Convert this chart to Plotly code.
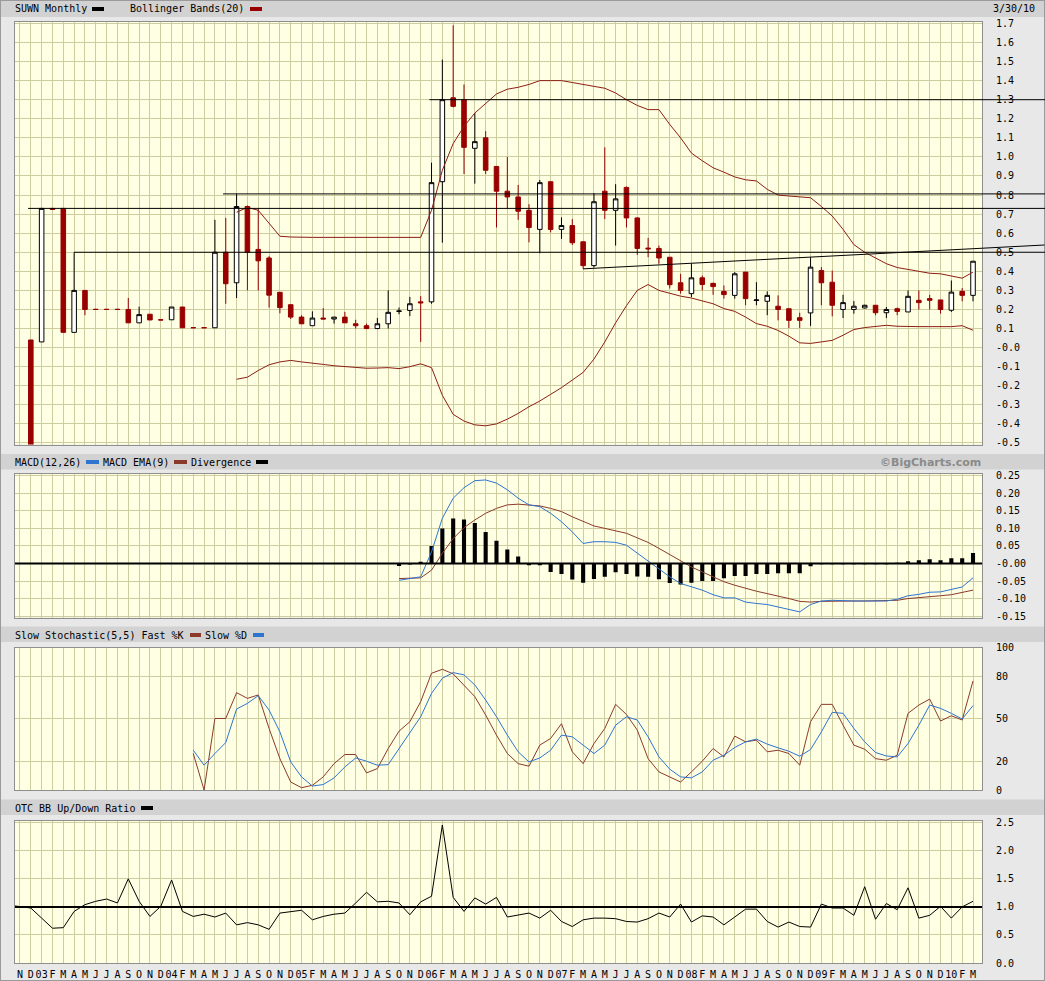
import plotly.graph_objects as go

# ---------------- data ----------------
month_labels = ["N", "D",
    "03", "F", "M", "A", "M", "J", "J", "A", "S", "O", "N", "D",
    "04", "F", "M", "A", "M", "J", "J", "A", "S", "O", "N", "D",
    "05", "F", "M", "A", "M", "J", "J", "A", "S", "O", "N", "D",
    "06", "F", "M", "A", "M", "J", "J", "A", "S", "O", "N", "D",
    "07", "F", "M", "A", "M", "J", "J", "A", "S", "O", "N", "D",
    "08", "F", "M", "A", "M", "J", "J", "A", "S", "O", "N", "D",
    "09", "F", "M", "A", "M", "J", "J", "A", "S", "O", "N", "D",
    "10", "F", "M"]

candle_start = 1
candle_open = [0.04, 0.03, 0.73, 0.73, 0.08, 0.30, 0.201, 0.201, 0.201, 0.20,
    0.13, 0.175, 0.146, 0.146, 0.213, 0.105, 0.105, 0.104, 0.50, 0.34,
    0.74, 0.515, 0.47, 0.29, 0.225, 0.16, 0.115, 0.155, 0.15, 0.16,
    0.125, 0.115, 0.10, 0.125, 0.19, 0.195, 0.24, 0.24, 0.87, 1.31,
    1.30, 1.045, 1.10, 0.95, 0.82, 0.79, 0.72, 0.62, 0.87, 0.62,
    0.64, 0.555, 0.43, 0.82, 0.72, 0.84, 0.68, 0.522, 0.52, 0.474,
    0.34, 0.283, 0.366, 0.337, 0.295, 0.274, 0.396, 0.247, 0.243, 0.217,
    0.204, 0.157, 0.182, 0.404, 0.343, 0.20, 0.20, 0.208, 0.222, 0.183,
    0.204, 0.187, 0.248, 0.257, 0.25, 0.196, 0.295, 0.274]
candle_high = [0.04, 0.73, 0.73, 0.73, 0.50, 0.30, 0.201, 0.201, 0.201, 0.26,
    0.215, 0.175, 0.146, 0.213, 0.213, 0.105, 0.105, 0.67, 0.68, 0.806,
    0.745, 0.73, 0.48, 0.29, 0.225, 0.17, 0.19, 0.207, 0.16, 0.187,
    0.146, 0.126, 0.156, 0.30, 0.21, 0.266, 0.27, 0.97, 1.51, 1.69,
    1.38, 1.23, 1.135, 0.95, 1.00, 0.853, 0.752, 0.879, 0.87, 0.683,
    0.674, 0.555, 0.81, 1.05, 0.857, 0.845, 0.683, 0.575, 0.535, 0.474,
    0.387, 0.44, 0.378, 0.34, 0.326, 0.396, 0.396, 0.343, 0.295, 0.274,
    0.204, 0.183, 0.474, 0.422, 0.404, 0.277, 0.244, 0.225, 0.222, 0.213,
    0.21, 0.30, 0.30, 0.277, 0.25, 0.352, 0.312, 0.453]
candle_low = [-0.55, 0.03, 0.725, 0.08, 0.08, 0.17, 0.20, 0.20, 0.20, 0.13,
    0.13, 0.145, 0.145, 0.146, 0.104, 0.104, 0.104, 0.104, 0.23, 0.26,
    0.30, 0.30, 0.21, 0.18, 0.15, 0.123, 0.115, 0.15, 0.126, 0.13,
    0.10, 0.097, 0.097, 0.10, 0.175, 0.165, 0.03, 0.23, 0.55, 1.26,
    0.91, 0.86, 0.91, 0.63, 0.73, 0.67, 0.552, 0.495, 0.604, 0.57,
    0.538, 0.413, 0.42, 0.674, 0.535, 0.63, 0.486, 0.474, 0.44, 0.31,
    0.283, 0.265, 0.30, 0.277, 0.257, 0.257, 0.222, 0.222, 0.17, 0.143,
    0.103, 0.103, 0.114, 0.222, 0.164, 0.155, 0.178, 0.205, 0.17, 0.155,
    0.17, 0.187, 0.20, 0.20, 0.178, 0.187, 0.243, 0.243]
candle_close = [-0.55, 0.73, 0.725, 0.08, 0.30, 0.20, 0.20, 0.20, 0.20, 0.13,
    0.173, 0.145, 0.145, 0.213, 0.104, 0.104, 0.104, 0.50, 0.335, 0.74,
    0.50, 0.455, 0.275, 0.21, 0.16, 0.125, 0.155, 0.15, 0.16, 0.13,
    0.115, 0.10, 0.125, 0.185, 0.192, 0.23, 0.235, 0.865, 1.30, 1.265,
    1.05, 1.08, 0.93, 0.82, 0.79, 0.715, 0.63, 0.865, 0.62, 0.64,
    0.55, 0.43, 0.765, 0.72, 0.78, 0.68, 0.52, 0.518, 0.47, 0.33,
    0.30, 0.366, 0.331, 0.32, 0.278, 0.387, 0.257, 0.25, 0.274, 0.20,
    0.143, 0.143, 0.422, 0.34, 0.222, 0.236, 0.217, 0.222, 0.183, 0.20,
    0.19, 0.269, 0.236, 0.248, 0.20, 0.291, 0.274, 0.453]

boll_start = 20
boll_upper = [0.71, 0.735, 0.72, 0.65, 0.584, 0.58, 0.578, 0.578, 0.578, 0.578,
    0.578, 0.578, 0.578, 0.578, 0.578, 0.578, 0.578, 0.578, 0.72, 0.93,
    1.07, 1.16, 1.23, 1.28, 1.33, 1.355, 1.365, 1.38, 1.40, 1.40,
    1.40, 1.39, 1.38, 1.37, 1.36, 1.335, 1.30, 1.27, 1.248, 1.248,
    1.17, 1.10, 1.02, 0.98, 0.943, 0.92, 0.895, 0.88, 0.874, 0.83,
    0.80, 0.795, 0.79, 0.786, 0.74, 0.69, 0.62, 0.54, 0.50, 0.47,
    0.44, 0.42, 0.41, 0.40, 0.39, 0.387, 0.375, 0.364, 0.396]
boll_lower = [-0.166, -0.155, -0.12, -0.09, -0.075, -0.067, -0.075, -0.083, -0.088, -0.095,
    -0.10, -0.104, -0.108, -0.107, -0.105, -0.11, -0.10, -0.085, -0.105, -0.25,
    -0.35, -0.385, -0.405, -0.41, -0.40, -0.375, -0.345, -0.31, -0.28, -0.245,
    -0.21, -0.17, -0.13, -0.06, 0.03, 0.13, 0.22, 0.30, 0.331, 0.30,
    0.283, 0.27, 0.26, 0.245, 0.23, 0.205, 0.19, 0.16, 0.126, 0.112,
    0.09, 0.06, 0.025, 0.022, 0.03, 0.038, 0.065, 0.095, 0.105, 0.11,
    0.117, 0.112, 0.11, 0.11, 0.11, 0.11, 0.11, 0.115, 0.091]

# user-drawn reference lines on the price panel: (start month index, level)
hline_starts = [0.75, 5, 18.75, 37.8]
hline_levels = [0.73, 0.50, 0.806, 1.30]
trend_start = (52, 0.413)
trend_end = (94.6, 0.538)

macd_start = 35
macd_line = [-0.048, -0.043, -0.038, 0.033, 0.129, 0.186, 0.216, 0.236, 0.238, 0.229,
    0.21, 0.186, 0.167, 0.162, 0.143, 0.119, 0.09, 0.057, 0.062, 0.062,
    0.06, 0.052, 0.029, 0.007, -0.016, -0.038, -0.057, -0.067, -0.076, -0.089,
    -0.098, -0.098, -0.11, -0.114, -0.117, -0.124, -0.13, -0.138, -0.117, -0.107,
    -0.105, -0.107, -0.107, -0.107, -0.107, -0.107, -0.102, -0.092, -0.088, -0.082,
    -0.081, -0.073, -0.067, -0.041]
macd_signal = [-0.043, -0.043, -0.041, -0.019, 0.029, 0.071, 0.102, 0.124, 0.143, 0.157,
    0.167, 0.169, 0.167, 0.164, 0.157, 0.148, 0.133, 0.121, 0.107, 0.10,
    0.092, 0.086, 0.073, 0.06, 0.043, 0.026, 0.007, -0.01, -0.024, -0.038,
    -0.052, -0.062, -0.071, -0.079, -0.086, -0.092, -0.10, -0.108, -0.11, -0.108,
    -0.107, -0.107, -0.107, -0.107, -0.107, -0.107, -0.105, -0.10, -0.098, -0.095,
    -0.092, -0.089, -0.083, -0.076]
macd_div = [-0.007, -0.003, 0.005, 0.05, 0.10, 0.128, 0.125, 0.115, 0.09, 0.065,
    0.04, 0.02, -0.005, -0.005, -0.024, -0.03, -0.046, -0.055, -0.044, -0.038,
    -0.025, -0.03, -0.037, -0.038, -0.045, -0.056, -0.06, -0.055, -0.05, -0.05,
    -0.042, -0.036, -0.036, -0.03, -0.03, -0.028, -0.028, -0.028, -0.008, -0.002,
    -0.002, -0.002, -0.002, -0.002, -0.002, -0.002, 0.002, 0.006, 0.009, 0.012,
    0.009, 0.015, 0.015, 0.03]

stoch_start = 16
stoch_k = [25.6, 0, 50.2, 50.2, 68.3, 64.3, 66.7, 43.2, 22, 5.6,
    1.6, 3.3, 9.2, 18.5, 24.9, 24.9, 12, 15, 29.1, 41.3,
    47.9, 62, 81.9, 84.7, 81.5, 73.7, 65.5, 52.6, 38.5, 25.6,
    18.5, 16.7, 31.5, 36.2, 46.5, 26.8, 18.5, 32.6, 43.2, 60.1,
    53, 42, 22, 12.7, 9.2, 5.6, 12.7, 20.2, 29.1, 23.2,
    37.8, 33.8, 35, 26.8, 27.9, 25.6, 17.4, 47.9, 60.1, 60.1,
    45.5, 31.5, 28.6, 22, 20.9, 24.4, 53.8, 59.6, 63.8, 48.4,
    52.1, 49.1, 76.5]
stoch_d = [27.9, 17.4, 25.6, 33.3, 56.8, 60.8, 66.2, 56.1, 40.8, 19.7,
    9.2, 2.8, 3.8, 8.5, 16.2, 22.5, 20.2, 17.4, 17.8, 29.1,
    39.7, 51.4, 67.8, 78.4, 82.4, 80.8, 73.7, 63.1, 51.4, 38.5,
    26.8, 19.7, 22.5, 27.9, 38.5, 37.3, 31.5, 25.6, 31.5, 45.5,
    51.4, 49.1, 37.3, 23.2, 14.6, 9.2, 8.5, 12.7, 20.9, 24.4,
    29.8, 33.8, 35.7, 32.2, 29.6, 27.2, 23.7, 28.4, 40.8, 54.5,
    53.8, 43.2, 33.8, 26.3, 23.9, 23.2, 32.6, 45.5, 59.6, 57.3,
    53.8, 49.8, 59.2]

otc_start = -1
otc_ratio = [1.03, 1.01, 0.98, 0.80, 0.62, 0.63, 0.92, 1.04, 1.10, 1.14, 1.07,
    1.50, 1.10, 0.83, 1.01, 1.48, 0.92, 0.83, 0.87, 0.82, 0.89,
    0.68, 0.72, 0.68, 0.60, 0.89, 0.92, 0.94, 0.77, 0.83, 0.87,
    0.89, 1.07, 1.26, 1.09, 1.10, 1.07, 0.86, 1.09, 1.19, 2.46,
    1.17, 0.92, 1.16, 1.05, 1.17, 0.82, 0.85, 0.89, 0.80, 0.94,
    0.74, 0.65, 0.77, 0.80, 0.80, 0.79, 0.74, 0.73, 0.79, 0.89,
    0.82, 1.05, 0.73, 0.84, 0.82, 0.68, 0.82, 0.96, 0.96, 0.74,
    0.64, 0.73, 0.65, 0.64, 1.05, 0.98, 0.98, 0.85, 1.36, 0.78,
    1.06, 0.95, 1.34, 0.80, 0.85, 1.01, 0.80, 1.00, 1.10]

price_ticks = [1.7, 1.6, 1.5, 1.4, 1.3, 1.2, 1.1, 1.0, 0.9, 0.8, 0.7, 0.6, 0.5, 0.4, 0.3,
               0.2, 0.1, 0.0, -0.1, -0.2, -0.3, -0.4, -0.5]
price_tick_text = ["1.7", "1.6", "1.5", "1.4", "1.3", "1.2", "1.1", "1.0", "0.9", "0.8", "0.7",
                   "0.6", "0.5", "0.4", "0.3", "0.2", "0.1", "-0.0", "-0.1", "-0.2", "-0.3",
                   "-0.4", "-0.5"]
macd_ticks = [0.25, 0.20, 0.15, 0.10, 0.05, 0.0, -0.05, -0.10, -0.15]
macd_tick_text = ["0.25", "0.20", "0.15", "0.10", "0.05", "-0.00", "-0.05", "-0.10", "-0.15"]
stoch_ticks = [100, 80, 50, 20, 0]
stoch_tick_text = ["100", "80", "50", "20", "0"]
otc_ticks = [2.5, 2.0, 1.5, 1.0, 0.5, 0.0]
otc_tick_text = ["2.5", "2.0", "1.5", "1.0", "0.5", "0.0"]

# ---------------- style ----------------
W, H = 1045, 981
FONT = "DejaVu Sans Mono"
PAGE_BG = "#e8e8e8"
HEAD_BG = "#d2d2d2"
PLOT_BG = "#ffffe3"
GRID = "#cdcd9f"
RED = "#990000"
BAND = "#8b1e14"
BLUE = "#2e74d0"
BROWN = "#8b3a2a"

XR = [-0.46, 88.83]
XD = [15 / W, 982 / W]


def ydom(top_px, bot_px):
    return [1 - bot_px / H, 1 - top_px / H]


def px(x):
    return x / W


def py(y):
    return 1 - y / H


def kx(k):
    return XD[0] + (k - XR[0]) / (XR[1] - XR[0]) * (XD[1] - XD[0])


def rng(start, n):
    return list(range(start, start + n))


fig = go.Figure()

# price panel
fig.add_trace(go.Candlestick(
    x=rng(candle_start, len(candle_open)), open=candle_open, high=candle_high,
    low=candle_low, close=candle_close,
    increasing=dict(line=dict(color="black", width=1), fillcolor="white"),
    decreasing=dict(line=dict(color=RED, width=1), fillcolor=RED),
    whiskerwidth=0, xaxis="x", yaxis="y", showlegend=False, hoverinfo="skip"))
for band in (boll_upper, boll_lower):
    fig.add_trace(go.Scatter(x=rng(boll_start, len(band)), y=band, mode="lines",
                             line=dict(color=BAND, width=1), xaxis="x", yaxis="y",
                             showlegend=False, hoverinfo="skip"))

# MACD panel
fig.add_trace(go.Bar(x=rng(macd_start, len(macd_div)), y=macd_div, width=0.38,
                     marker=dict(color="black", line=dict(width=0)),
                     xaxis="x2", yaxis="y2", showlegend=False, hoverinfo="skip"))
fig.add_trace(go.Scatter(x=rng(macd_start, len(macd_signal)), y=macd_signal, mode="lines",
                         line=dict(color=BROWN, width=1), xaxis="x2", yaxis="y2",
                         showlegend=False, hoverinfo="skip"))
fig.add_trace(go.Scatter(x=rng(macd_start, len(macd_line)), y=macd_line, mode="lines",
                         line=dict(color=BLUE, width=1), xaxis="x2", yaxis="y2",
                         showlegend=False, hoverinfo="skip"))

# Stochastic panel
fig.add_trace(go.Scatter(x=rng(stoch_start, len(stoch_k)), y=stoch_k, mode="lines",
                         line=dict(color=BROWN, width=1), xaxis="x3", yaxis="y3",
                         showlegend=False, hoverinfo="skip"))
fig.add_trace(go.Scatter(x=rng(stoch_start, len(stoch_d)), y=stoch_d, mode="lines",
                         line=dict(color=BLUE, width=1), xaxis="x3", yaxis="y3",
                         showlegend=False, hoverinfo="skip"))

# OTC panel
fig.add_trace(go.Scatter(x=rng(otc_start, len(otc_ratio)), y=otc_ratio, mode="lines",
                         line=dict(color="black", width=1), xaxis="x4", yaxis="y4",
                         showlegend=False, hoverinfo="skip"))

axis_font = dict(family=FONT, size=10, color="black")
xcommon = dict(range=XR, domain=XD, showgrid=True, gridcolor=GRID, gridwidth=1,
               zeroline=False, showline=True, mirror=True, linecolor="#8f8f8f",
               linewidth=1, fixedrange=True, automargin=False)
ycommon = dict(side="right", showgrid=True, gridcolor=GRID, gridwidth=1, zeroline=False,
               showline=True, mirror=True, linecolor="#8f8f8f", linewidth=1,
               ticks="outside", ticklen=11, tickcolor="rgba(0,0,0,0)",
               tickfont=axis_font, tickmode="array", fixedrange=True, automargin=False)

layout = dict(
    width=W, height=H, autosize=False,
    margin=dict(l=0, r=0, t=0, b=0, pad=0, autoexpand=False),
    paper_bgcolor=PAGE_BG, plot_bgcolor=PLOT_BG,
    showlegend=False, hovermode=False, boxgap=0.4,
    xaxis=dict(xcommon, anchor="y", tickmode="linear", tick0=0, dtick=1,
               showticklabels=False, rangeslider=dict(visible=False)),
    xaxis2=dict(xcommon, anchor="y2", tickmode="linear", tick0=0, dtick=1,
                showticklabels=False),
    xaxis3=dict(xcommon, anchor="y3", tickmode="linear", tick0=0, dtick=1,
                showticklabels=False),
    xaxis4=dict(xcommon, anchor="y4", tickmode="array",
                tickvals=list(range(len(month_labels))), ticktext=month_labels,
                tickangle=0, tickfont=axis_font, ticks="outside", ticklen=2,
                tickcolor="rgba(0,0,0,0)"),
    yaxis=dict(ycommon, anchor="x", domain=ydom(21.5, 444.5), range=[-0.508, 1.71],
               tickvals=price_ticks, ticktext=price_tick_text),
    yaxis2=dict(ycommon, anchor="x2", domain=ydom(474, 617.5), range=[-0.154, 0.255],
                tickvals=macd_ticks, ticktext=macd_tick_text),
    yaxis3=dict(ycommon, anchor="x3", domain=ydom(647.5, 790), range=[0, 100],
                tickvals=stoch_ticks, ticktext=stoch_tick_text),
    yaxis4=dict(ycommon, anchor="x4", domain=ydom(820.5, 963), range=[0, 2.54],
                tickvals=otc_ticks, ticktext=otc_tick_text),
)
fig.update_layout(**layout)

shapes = []
# header bars
for top, bot in [(0, 17), (454, 469.5), (626.5, 642), (799.5, 815)]:
    shapes.append(dict(type="rect", xref="paper", yref="paper", x0=0, x1=1,
                       y0=py(bot), y1=py(top), fillcolor=HEAD_BG, line=dict(width=0),
                       layer="below"))
# outer frame
shapes.append(dict(type="rect", xref="paper", yref="paper", x0=0, x1=1, y0=0, y1=1,
                   line=dict(color="#9a9a9a", width=2), fillcolor="rgba(0,0,0,0)"))
# reference lines in MACD / OTC
shapes.append(dict(type="line", xref="x2 domain", yref="y2", x0=0, x1=1, y0=0, y1=0,
                   line=dict(color="black", width=2)))
shapes.append(dict(type="line", xref="x4 domain", yref="y4", x0=0, x1=1, y0=1.0, y1=1.0,
                   line=dict(color="black", width=2)))
# user drawn lines on price chart (extend across the axis column)
for ks, lvl in zip(hline_starts, hline_levels):
    shapes.append(dict(type="line", xref="paper", yref="y", x0=kx(ks), x1=1.0,
                       y0=lvl, y1=lvl, line=dict(color="black", width=1)))
shapes.append(dict(type="line", xref="paper", yref="y", x0=kx(trend_start[0]),
                   x1=kx(trend_end[0]), y0=trend_start[1], y1=trend_end[1],
                   line=dict(color="black", width=1)))


def swatch(x0, x1, yc, color):
    return dict(type="rect", xref="paper", yref="paper", x0=px(x0), x1=px(x1),
                y0=py(yc + 2), y1=py(yc - 2), fillcolor=color, line=dict(width=0))


shapes += [
    swatch(92, 104, 9, "black"), swatch(250, 262, 9, RED),
    swatch(86, 99, 462, BLUE), swatch(174, 187, 462, BROWN), swatch(256, 268, 462, "black"),
    swatch(190, 201, 635, BROWN), swatch(253, 264, 635, BLUE),
    swatch(141, 153, 808, "black"),
]
fig.update_layout(shapes=shapes)

hdr_font = dict(family=FONT, size=10, color="black")


def label(text, x, y, anchor="left", font=hdr_font):
    return dict(text=text, xref="paper", yref="paper", x=px(x), y=py(y),
                xanchor=anchor, yanchor="middle", showarrow=False, font=font,
                borderpad=0)


annotations = [
    label("SUWN Monthly", 14, 9), label("Bollinger Bands(20)", 129, 9),
    label("3/30/10", 1036, 9, anchor="right"),
    label("MACD(12,26)", 14, 462), label("MACD EMA(9)", 102, 462),
    label("Divergence", 190, 462),
    label("<b>©BigCharts.com</b>", 982, 462, anchor="right",
          font=dict(family="DejaVu Sans", size=11, color="#8a8a8a")),
    label("Slow Stochastic(5,5) Fast %K", 14, 635), label("Slow %D", 204, 635),
    label("OTC BB Up/Down Ratio", 14, 808),
]
fig.update_layout(annotations=annotations)

fig.write_html("out.html", config={"displayModeBar": False, "staticPlot": True},
               post_script="document.body.style.margin='0px';document.body.style.overflow='hidden';")
